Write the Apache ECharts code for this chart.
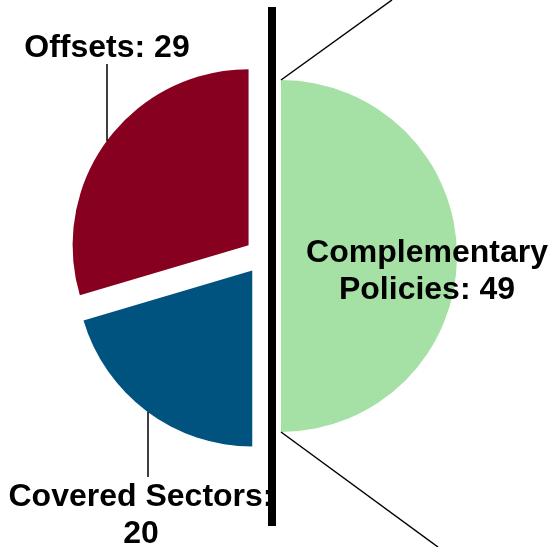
<!DOCTYPE html>
<html>
<head>
<meta charset="utf-8">
<script src="https://cdn.jsdelivr.net/npm/echarts@6/dist/echarts.min.js"></script>
<style>
html,body{margin:0;padding:0;background:#fff;}
#chart{width:551px;height:547px;}
</style>
</head>
<body>
<div id="chart"></div>
<script>
const categories = ['Complementary Policies', 'Covered Sectors', 'Offsets'];
const values = [49, 20, 29];
const labelTexts = ['Complementary\nPolicies: 49', 'Covered Sectors:\n20', 'Offsets: 29'];
const colors = ['#A5E0A5', '#00527F', '#88001F'];

const CX = 263, CY = 256, R = 176, OFF = 18;

const chart = echarts.init(document.getElementById('chart'), null, {renderer: 'canvas'});

const data = categories.map((c, i) => ({
  name: c,
  value: values[i],
  selected: true,
  itemStyle: {color: colors[i]}
}));

const font = {
  fontFamily: '"Liberation Sans", Arial, sans-serif',
  fontWeight: 'bold',
  fontSize: 32,
  lineHeight: 37,
  fill: '#000',
  align: 'center',
  verticalAlign: 'middle'
};

function txt(i, x, y) {
  return {type: 'text', z: 20, x: x, y: y, style: Object.assign({text: labelTexts[i]}, font)};
}

chart.setOption({
  animation: false,
  backgroundColor: '#fff',
  series: [{
    type: 'pie',
    center: [CX, CY],
    radius: R,
    startAngle: 90,
    clockwise: true,
    selectedMode: 'multiple',
    selectedOffset: OFF,
    emphasis: {disabled: true},
    label: {show: false},
    labelLine: {show: false},
    data: data
  }],
  graphic: [
    {type: 'line', z: 10, shape: {x1: 272, y1: 7, x2: 272, y2: 526}, style: {stroke: '#000', lineWidth: 8}},
    {type: 'line', z: 10, shape: {x1: CX + OFF, y1: CY - R, x2: 392, y2: 0}, style: {stroke: '#000', lineWidth: 1.5}},
    {type: 'line', z: 10, shape: {x1: CX + OFF, y1: CY + R, x2: 438, y2: 547}, style: {stroke: '#000', lineWidth: 1.5}},
    {type: 'line', z: 10, shape: {x1: 107, y1: 141, x2: 107, y2: 64}, style: {stroke: '#000', lineWidth: 1.5}},
    {type: 'line', z: 10, shape: {x1: 148, y1: 412, x2: 148, y2: 477}, style: {stroke: '#000', lineWidth: 1.5}},
    txt(0, 427, 272),
    txt(1, 141, 516),
    txt(2, 107, 48)
  ]
});
</script>
</body>
</html>
